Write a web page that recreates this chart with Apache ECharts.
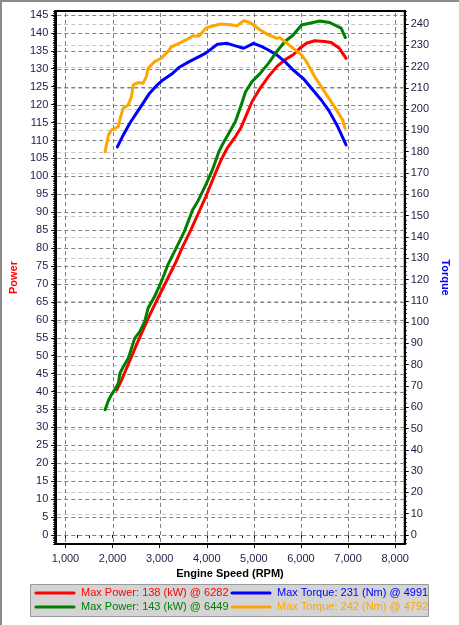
<!DOCTYPE html>
<html><head><meta charset="utf-8">
<script src="https://cdn.jsdelivr.net/npm/echarts@6/dist/echarts.min.js"></script>
<style>
html,body{margin:0;padding:0;background:#fff;}
#c{width:459px;height:625px;position:absolute;left:0;top:0;}
#f{position:absolute;left:0;top:0;width:457px;height:623px;border-left:2px solid #8a8a8a;border-top:2px solid #8a8a8a;pointer-events:none;}
</style></head><body>
<div id="c"></div><div id="f"></div>
<script>
// ---- tick labels ----
const rpmTicks = [1000, 2000, 3000, 4000, 5000, 6000, 7000, 8000];
const powerTicks = [0,5,10,15,20,25,30,35,40,45,50,55,60,65,70,75,80,85,90,95,100,105,110,115,120,125,130,135,140,145];
const torqueTicks = [0,10,20,30,40,50,60,70,80,90,100,110,120,130,140,150,160,170,180,190,200,210,220,230,240];

// ---- series names ----
const seriesNames = [
  'Max Power: 138 (kW) @ 6282',
  'Max Torque: 231 (Nm) @ 4991',
  'Max Power: 143 (kW) @ 6449',
  'Max Torque: 242 (Nm) @ 4792'
];
const seriesColors = ['#ff0000', '#0000ff', '#008000', '#ffa500'];

// ---- red power (kW) ----
const redRpm = [2087,2192,2297,2402,2507,2648,2787,2928,3069,3207,3348,3489,3663,3838,3979,4153,4294,4435,4609,4719,4824,4960,5135,5309,5486,5660,5835,5976,6117,6291,6501,6642,6816,6958];
const redKw  = [40.4,43.2,46.5,49.7,53.0,57.2,61.3,65.1,68.8,72.5,76.2,80.4,85.1,90.2,94.3,99.9,104.3,107.9,111.1,113.4,116.6,120.8,124.6,127.8,130.6,132.5,133.9,135.7,137.1,137.8,137.6,137.3,135.7,132.9];

// ---- blue torque (Nm) ----
const blueRpm = [2102,2228,2366,2507,2648,2787,2928,3069,3279,3417,3628,3838,3979,4084,4225,4435,4609,4784,4994,5171,5309,5486,5660,5835,6045,6222,6432,6607,6781,6958];
const blueNm  = [182.3,187.9,193.4,198.1,202.8,207.5,210.9,213.7,216.9,219.7,222.3,224.7,226.3,228.1,230.5,230.9,229.7,228.6,230.9,229.4,227.8,225.5,222.3,218.4,214.5,209.8,204.3,198.8,191.8,183.2];

// ---- green power (kW) ----
const greenRpm = [1841,1912,1982,2050,2123,2156,2228,2333,2402,2472,2577,2682,2753,2892,3033,3174,3348,3523,3699,3804,3979,4120,4258,4330,4469,4609,4719,4824,4960,5135,5309,5486,5660,5835,6012,6186,6397,6607,6853,6943];
const greenKw  = [34.9,37.5,39.3,40.6,42.3,45.1,46.9,49.3,52.1,54.9,56.7,59.5,63.2,66.5,70.6,75.3,79.9,84.6,90.6,92.9,97.6,101.8,106.9,108.8,112.0,115.3,119.4,123.6,126.4,128.7,131.5,134.8,137.6,139.4,142.2,142.7,143.3,142.9,141.3,138.7];

// ---- orange torque (Nm) ----
const orangeRpm = [1841,1912,1982,2123,2171,2228,2333,2402,2438,2543,2648,2718,2753,2892,3033,3174,3243,3417,3558,3699,3838,3979,4084,4294,4470,4643,4784,4925,5135,5309,5486,5555,5660,5835,6012,6117,6291,6501,6711,6886,6936];
const orangeNm  = [180.0,187.9,190.3,191.8,196.5,200.4,202.0,205.9,211.4,212.5,212.2,215.3,219.2,222.3,223.9,227.0,229.1,231.0,232.5,234.4,234.4,238.0,238.8,240.0,239.8,239.2,241.6,240.6,237.2,234.9,233.3,233.6,231.7,228.6,225.5,222.3,215.3,208.2,201.2,194.9,191.0];

const FONT = 'Liberation Sans, Arial, sans-serif';
const LBL = '#1c1c48';

function pairs(xs, ys) { return xs.map((x, i) => [x, ys[i]]); }
function steps(a, b, s) { const r = []; for (let v = a; v <= b + 1e-9; v += s) r.push(+v.toFixed(3)); return r; }

const X_MIN = 783, X_MAX = 8204;
const P_MIN = -2.5, P_MAX = 146.1;
const T_MIN = -4.23, T_MAX = 246.1;

const chart = echarts.init(document.getElementById('c'), null, {renderer: 'canvas'});

const mkLine = (name, data, color, yIdx) => ({
  name, type: 'line', data, xAxisIndex: 0, yAxisIndex: yIdx, z: 5,
  showSymbol: false, symbol: 'none', smooth: false, animation: false,
  lineStyle: {color, width: 3, cap: 'round', join: 'round'},
  itemStyle: {color}
});

// dashed gridlines drawn as short solid segments, positioned through the axes
const DASH = 4, GAP = 3;
function hGrid(color) {
  return function (params, api) {
    const v = api.value(1);
    const p0 = api.coord([X_MIN, v]), p1 = api.coord([X_MAX, v]);
    const y = Math.round(p0[1]) + 0.5;
    const children = [];
    for (let x = p0[0] + 2; x < p1[0] - 1; x += DASH + GAP) {
      children.push({type: 'line', shape: {x1: x, y1: y, x2: Math.min(x + DASH, p1[0] - 1), y2: y},
        style: {stroke: color, lineWidth: 1}, silent: true});
    }
    return {type: 'group', children};
  };
}
function vGrid(color) {
  return function (params, api) {
    const v = api.value(0);
    const p0 = api.coord([v, P_MAX]), p1 = api.coord([v, P_MIN]);
    const x = Math.round(p0[0]) + 0.5;
    const children = [];
    for (let y = p0[1] + 2; y < p1[1] - 1; y += DASH + GAP) {
      children.push({type: 'line', shape: {x1: x, y1: y, x2: x, y2: Math.min(y + DASH, p1[1] - 1)},
        style: {stroke: color, lineWidth: 1}, silent: true});
    }
    return {type: 'group', children};
  };
}
const gridSeries = [
  {name: 'gridT', type: 'custom', xAxisIndex: 0, yAxisIndex: 1, z: 2, silent: true, animation: false,
   data: torqueTicks.map(v => [X_MIN, v]), renderItem: hGrid('#c4c4c4')},
  {name: 'gridP', type: 'custom', xAxisIndex: 0, yAxisIndex: 0, z: 2, silent: true, animation: false,
   data: powerTicks.map(v => [X_MIN, v]), renderItem: hGrid('#808080')},
  {name: 'gridX', type: 'custom', xAxisIndex: 0, yAxisIndex: 0, z: 2, silent: true, animation: false,
   data: rpmTicks.map(v => [v, P_MIN]), renderItem: vGrid('#808080')}
];

// legend drawn as graphic (2 x 2 layout)
const legendGraphic = [{
  type: 'rect', left: 30, top: 584, z: 10,
  shape: {width: 398, height: 32},
  style: {fill: '#d4d4d4', stroke: '#9a9a9a', lineWidth: 1}
}];
seriesNames.forEach((n, i) => {
  const col = i % 2, row = Math.floor(i / 2);
  const x0 = 35 + col * 196, yc = 593 + row * 14;
  legendGraphic.push({
    type: 'line', z: 11,
    shape: {x1: x0 + 1, y1: yc, x2: x0 + 39, y2: yc},
    style: {stroke: seriesColors[i], lineWidth: 3, lineCap: 'round'}
  });
  legendGraphic.push({
    type: 'text', z: 11, x: x0 + 46, y: yc,
    style: {text: n, fill: seriesColors[i], fontSize: 11, fontFamily: FONT, verticalAlign: 'middle', align: 'left'}
  });
});

chart.setOption({
  animation: false,
  backgroundColor: '#ffffff',
  textStyle: {fontFamily: FONT},
  grid: {left: 53, right: 53, top: 11, bottom: 81, show: true, borderColor: '#000', borderWidth: 2},
  graphic: legendGraphic,
  xAxis: [{
    type: 'value', position: 'bottom', min: X_MIN, max: X_MAX,
    name: 'Engine Speed (RPM)', nameLocation: 'middle', nameGap: 23,
    nameTextStyle: {fontFamily: FONT, fontSize: 11, fontWeight: 'bold', color: '#000'},
    axisLine: {show: true, onZero: false, lineStyle: {color: '#000', width: 2}},
    axisTick: {show: true, inside: false, length: 4, customValues: rpmTicks, lineStyle: {color: '#000'}},
    axisLabel: {show: true, customValues: rpmTicks, margin: 9, fontFamily: FONT, fontSize: 11, color: LBL,
      formatter: v => Number(v).toLocaleString('en-US')},
    splitLine: {show: false}
  }, {
    type: 'value', position: 'bottom', min: X_MIN, max: X_MAX, gridIndex: 0,
    axisLine: {show: false}, axisLabel: {show: false}, splitLine: {show: false},
    axisTick: {show: true, inside: false, length: 3, customValues: steps(1000, 8000, 250), lineStyle: {color: '#000'}}
  }],
  yAxis: [{
    type: 'value', position: 'left', min: P_MIN, max: P_MAX,
    name: 'Power', nameLocation: 'middle', nameGap: 30,
    nameTextStyle: {fontFamily: FONT, fontSize: 11, fontWeight: 'bold', color: '#ff0000'},
    axisLine: {show: true, onZero: false, lineStyle: {color: '#000', width: 2}},
    axisTick: {show: true, inside: false, length: 4, customValues: powerTicks, lineStyle: {color: '#000'}},
    axisLabel: {show: true, customValues: powerTicks, margin: 7, fontFamily: FONT, fontSize: 11, color: LBL},
    splitLine: {show: false}
  }, {
    type: 'value', position: 'right', min: T_MIN, max: T_MAX,
    name: 'Torque', nameLocation: 'middle', nameGap: 29, nameRotate: -90,
    nameTextStyle: {fontFamily: FONT, fontSize: 11, fontWeight: 'bold', color: '#0000ff'},
    axisLine: {show: true, onZero: false, lineStyle: {color: '#000', width: 2}},
    axisTick: {show: true, inside: false, length: 4, customValues: torqueTicks, lineStyle: {color: '#000'}},
    axisLabel: {show: true, customValues: torqueTicks, margin: 6, fontFamily: FONT, fontSize: 11, color: LBL},
    splitLine: {show: false}
  }, {
    type: 'value', position: 'left', min: P_MIN, max: P_MAX,
    axisLine: {show: false}, axisLabel: {show: false}, splitLine: {show: false},
    axisTick: {show: true, inside: false, length: 2, customValues: steps(-2.5, 146, 0.5), lineStyle: {color: '#000'}}
  }, {
    type: 'value', position: 'right', min: T_MIN, max: T_MAX,
    axisLine: {show: false}, axisLabel: {show: false}, splitLine: {show: false},
    axisTick: {show: true, inside: false, length: 2, customValues: steps(-4, 246, 2), lineStyle: {color: '#000'}}
  }],
  series: gridSeries.concat([
    mkLine(seriesNames[0], pairs(redRpm, redKw), seriesColors[0], 0),
    mkLine(seriesNames[1], pairs(blueRpm, blueNm), seriesColors[1], 1),
    mkLine(seriesNames[2], pairs(greenRpm, greenKw), seriesColors[2], 0),
    mkLine(seriesNames[3], pairs(orangeRpm, orangeNm), seriesColors[3], 1)
  ])
});
</script></body></html>
